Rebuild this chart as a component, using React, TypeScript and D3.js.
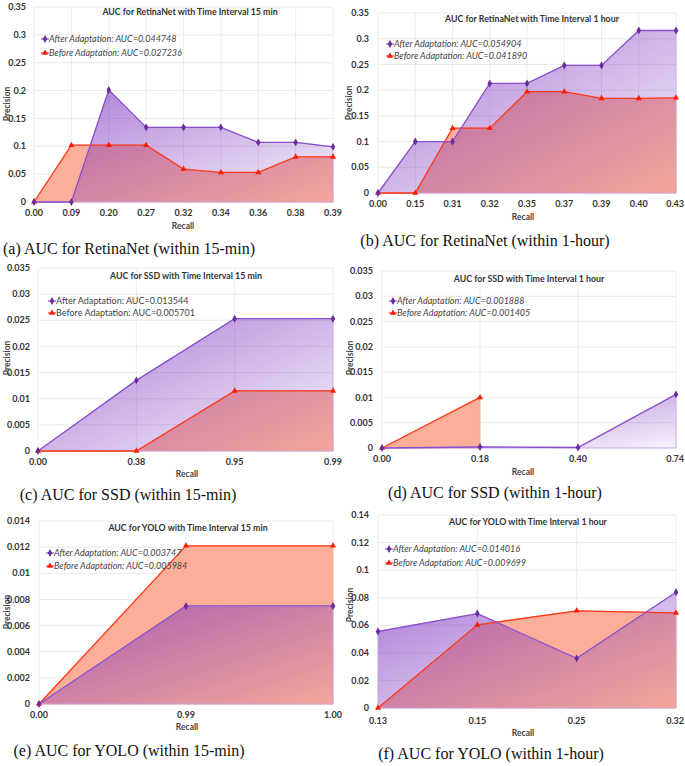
import React from 'react';
import * as d3 from 'd3';

// ---------- data ----------
const aTitle = 'AUC for RetinaNet with Time Interval 15 min';
const aRecall = ['0.00', '0.09', '0.20', '0.27', '0.32', '0.34', '0.36', '0.38', '0.39'];
const aAfter = [0, 0, 0.201, 0.134, 0.134, 0.134, 0.107, 0.107, 0.099];
const aBefore = [0, 0.102, 0.102, 0.102, 0.059, 0.053, 0.053, 0.081, 0.081];
const aYTicks = [0, 0.05, 0.1, 0.15, 0.2, 0.25, 0.3, 0.35];
const aYLabels = ['0', '0.05', '0.1', '0.15', '0.2', '0.25', '0.3', '0.35'];
const aLegend = ['After Adaptation: AUC=0.044748', 'Before Adaptation: AUC=0.027236'];
const aCaption = '(a) AUC for RetinaNet (within 15-min)';

const bTitle = 'AUC for RetinaNet with Time Interval 1 hour';
const bRecall = ['0.00', '0.15', '0.31', '0.32', '0.35', '0.37', '0.39', '0.40', '0.43'];
const bAfter = [0, 0.1, 0.1, 0.213, 0.213, 0.248, 0.248, 0.316, 0.316];
const bBefore = [0, 0, 0.126, 0.126, 0.197, 0.197, 0.184, 0.184, 0.185];
const bYTicks = [0, 0.05, 0.1, 0.15, 0.2, 0.25, 0.3, 0.35];
const bYLabels = ['0', '0.05', '0.1', '0.15', '0.2', '0.25', '0.3', '0.35'];
const bLegend = ['After Adaptation: AUC=0.054904', 'Before Adaptation: AUC=0.041890'];
const bCaption = '(b) AUC for RetinaNet (within 1-hour)';

const cTitle = 'AUC for SSD with Time Interval 15 min';
const cRecall = ['0.00', '0.38', '0.95', '0.99'];
const cAfter = [0, 0.0135, 0.0253, 0.0253];
const cBefore = [0, 0, 0.0115, 0.0115];
const cYTicks = [0, 0.005, 0.01, 0.015, 0.02, 0.025, 0.03, 0.035];
const cYLabels = ['0', '0.005', '0.01', '0.015', '0.02', '0.025', '0.03', '0.035'];
const cLegend = ['After Adaptation: AUC=0.013544', 'Before Adaptation: AUC=0.005701'];
const cCaption = '(c) AUC for SSD (within 15-min)';

const dTitle = 'AUC for SSD with Time Interval 1 hour';
const dRecall = ['0.00', '0.18', '0.40', '0.74'];
const dAfter = [0, 0.0002, 0.0001, 0.0106];
const dBefore: (number | null)[] = [0, 0.01, null, null];
const dYTicks = [0, 0.005, 0.01, 0.015, 0.02, 0.025, 0.03, 0.035];
const dYLabels = ['0', '0.005', '0.01', '0.015', '0.02', '0.025', '0.03', '0.035'];
const dLegend = ['After Adaptation: AUC=0.001888', 'Before Adaptation: AUC=0.001405'];
const dCaption = '(d) AUC for SSD (within 1-hour)';

const eTitle = 'AUC for YOLO with Time Interval 15 min';
const eRecall = ['0.00', '0.99', '1.00'];
const eAfter = [0, 0.0075, 0.0075];
const eBefore = [0, 0.0121, 0.0121];
const eYTicks = [0, 0.002, 0.004, 0.006, 0.008, 0.01, 0.012, 0.014];
const eYLabels = ['0', '0.002', '0.004', '0.006', '0.008', '0.01', '0.012', '0.014'];
const eLegend = ['After Adaptation: AUC=0.003747', 'Before Adaptation: AUC=0.005984'];
const eCaption = '(e) AUC for YOLO (within 15-min)';

const fTitle = 'AUC for YOLO with Time Interval 1 hour';
const fRecall = ['0.13', '0.15', '0.25', '0.32'];
const fAfter = [0.0555, 0.0685, 0.036, 0.084];
const fBefore = [0, 0.0603, 0.0705, 0.069];
const fYTicks = [0, 0.02, 0.04, 0.06, 0.08, 0.1, 0.12, 0.14];
const fYLabels = ['0', '0.02', '0.04', '0.06', '0.08', '0.1', '0.12', '0.14'];
const fLegend = ['After Adaptation: AUC=0.014016', 'Before Adaptation: AUC=0.009699'];
const fCaption = '(f) AUC for YOLO (within 1-hour)';

// ---------- layout ----------
type Layout = {
  x0: number; x1: number; yTop: number; yBot: number; tickRight: number;
  titleX: number; titleY: number; legX: number; legY1: number; legY2: number;
  xLabY: number; recallX: number; recallY: number; precX: number; precY: number;
  capX: number; capY: number; italic: boolean;
};

type Panel = {
  id: string; title: string; recall: string[]; after: (number | null)[]; before: (number | null)[];
  yTicks: number[]; yLabels: string[]; legend: string[]; caption: string; L: Layout;
};

const panels: Panel[] = [
  { id: 'a', title: aTitle, recall: aRecall, after: aAfter, before: aBefore, yTicks: aYTicks, yLabels: aYLabels, legend: aLegend, caption: aCaption,
    L: { x0: 34, x1: 333, yTop: 7, yBot: 202, tickRight: 26, titleX: 190, titleY: 15, legX: 45, legY1: 39, legY2: 53, xLabY: 216, recallX: 183, recallY: 229, precX: 7, precY: 104, capX: 129, capY: 254, italic: true } },
  { id: 'b', title: bTitle, recall: bRecall, after: bAfter, before: bBefore, yTicks: bYTicks, yLabels: bYLabels, legend: bLegend, caption: bCaption,
    L: { x0: 378, x1: 676, yTop: 13, yBot: 193, tickRight: 369, titleX: 532, titleY: 22, legX: 390, legY1: 44, legY2: 56, xLabY: 207, recallX: 523, recallY: 220, precX: 349, precY: 103, capX: 485, capY: 246, italic: true } },
  { id: 'c', title: cTitle, recall: cRecall, after: cAfter, before: cBefore, yTicks: cYTicks, yLabels: cYLabels, legend: cLegend, caption: cCaption,
    L: { x0: 38, x1: 333, yTop: 268, yBot: 451, tickRight: 30, titleX: 186, titleY: 279, legX: 52, legY1: 301, legY2: 313, xLabY: 465, recallX: 187, recallY: 477, precX: 7, precY: 358, capX: 128, capY: 500, italic: false } },
  { id: 'd', title: dTitle, recall: dRecall, after: dAfter, before: dBefore, yTicks: dYTicks, yLabels: dYLabels, legend: dLegend, caption: dCaption,
    L: { x0: 382, x1: 676, yTop: 271, yBot: 448, tickRight: 373, titleX: 529, titleY: 282, legX: 393, legY1: 301, legY2: 313, xLabY: 462, recallX: 523, recallY: 475, precX: 350, precY: 358, capX: 495, capY: 498, italic: true } },
  { id: 'e', title: eTitle, recall: eRecall, after: eAfter, before: eBefore, yTicks: eYTicks, yLabels: eYLabels, legend: eLegend, caption: eCaption,
    L: { x0: 39, x1: 333, yTop: 521, yBot: 704, tickRight: 30, titleX: 188, titleY: 531, legX: 50, legY1: 553, legY2: 566, xLabY: 718, recallX: 187, recallY: 730, precX: 7, precY: 612, capX: 129, capY: 756, italic: true } },
  { id: 'f', title: fTitle, recall: fRecall, after: fAfter, before: fBefore, yTicks: fYTicks, yLabels: fYLabels, legend: fLegend, caption: fCaption,
    L: { x0: 378, x1: 676, yTop: 515, yBot: 708, tickRight: 369, titleX: 528, titleY: 525, legX: 389, legY1: 549, legY2: 563, xLabY: 724, recallX: 523, recallY: 736, precX: 350, precY: 605, capX: 491, capY: 759, italic: true } },
];

const FONT = 'Lato, "Open Sans", sans-serif';
const PURPLE = '#7b2fbe';
const PURPLE_LINE = '#8a4fcc';
const PURPLE_MARK = '#6a2c9a';
const RED_LINE = '#ff3a1c';
const SALMON = '#fcae98';

const diamond = d3.symbol().type(d3.symbolDiamond).size(18)() as string;
const triangle = d3.symbol().type(d3.symbolTriangle).size(16)() as string;

function PanelView({ p }: { p: Panel }) {
  const L = p.L;
  const x = d3.scalePoint<number>().domain(p.recall.map((_, i) => i)).range([L.x0, L.x1]).padding(0);
  const y = d3.scaleLinear().domain([0, d3.max(p.yTicks) as number]).range([L.yBot, L.yTop]);
  const area = d3.area<number | null>()
    .defined((d) => d != null)
    .x((_, i) => x(i) as number)
    .y0(L.yBot)
    .y1((d) => y(d as number));
  const line = d3.line<number | null>()
    .defined((d) => d != null)
    .x((_, i) => x(i) as number)
    .y((d) => y(d as number));
  const gid = `grad-${p.id}`;
  return (
    <g>
      <defs>
        <linearGradient id={gid} x1="0" y1="0" x2="1" y2="1">
          <stop offset="0" stopColor={PURPLE} stopOpacity={0.64} />
          <stop offset="1" stopColor={PURPLE} stopOpacity={0.06} />
        </linearGradient>
      </defs>
      {/* gridlines */}
      {p.yTicks.map((t) => (
        <line key={'h' + t} x1={L.x0} x2={L.x1} y1={y(t)} y2={y(t)} stroke="#e4e4e4" strokeWidth={0.8} />
      ))}
      {p.recall.map((_, i) => (
        <line key={'v' + i} x1={x(i)} x2={x(i)} y1={L.yTop} y2={L.yBot} stroke="#e8e8e8" strokeWidth={0.8} />
      ))}
      {/* areas */}
      <path d={area(p.before) as string} fill={SALMON} stroke="#f7a590" strokeWidth={0.8} />
      <path d={area(p.after) as string} fill={`url(#${gid})`} stroke="#c8a6ea" strokeWidth={0.8} />
      {/* lines */}
      <path d={line(p.before) as string} fill="none" stroke={RED_LINE} strokeWidth={1.3} />
      <path d={line(p.after) as string} fill="none" stroke={PURPLE_LINE} strokeWidth={1.3} />
      {p.before.map((v, i) => v == null ? null : (
        <path key={'bm' + i} d={triangle} transform={`translate(${x(i)},${y(v)})`} fill="#ff1a00" />
      ))}
      {p.after.map((v, i) => v == null ? null : (
        <path key={'am' + i} d={diamond} transform={`translate(${x(i)},${y(v)})`} fill={PURPLE_MARK} />
      ))}
      {/* y tick labels */}
      {p.yTicks.map((t, i) => (
        <text key={'yl' + t} x={L.tickRight} y={y(t)} dy="0.35em" textAnchor="end" fontFamily={FONT} fontWeight={700} fontSize={9} fill="#333">
          {p.yLabels[i]}
        </text>
      ))}
      {/* x tick labels */}
      {p.recall.map((r, i) => (
        <text key={'xl' + i} x={x(i)} y={L.xLabY} textAnchor={i === p.recall.length - 1 && L.x1 > 600 ? 'end' : 'middle'} dx={i === p.recall.length - 1 && L.x1 > 600 ? 8 : 0} fontFamily={FONT} fontWeight={700} fontSize={9} fill="#333">
          {r}
        </text>
      ))}
      {/* axis titles */}
      <text x={L.recallX} y={L.recallY} textAnchor="middle" fontFamily={FONT} fontWeight={700} fontSize={8.5} fill="#444">Recall</text>
      <text transform={`translate(${L.precX},${L.precY}) rotate(-90)`} textAnchor="middle" dy="0.35em" fontFamily={FONT} fontWeight={700} fontSize={8.5} fill="#444">Precision</text>
      {/* chart title */}
      <text x={L.titleX} y={L.titleY} textAnchor="middle" fontFamily={FONT} fontWeight={700} fontSize={8.8} fill="#333">{p.title}</text>
      {/* legend */}
      {[0, 1].map((k) => {
        const ly = k === 0 ? L.legY1 : L.legY2;
        const col = k === 0 ? PURPLE_LINE : RED_LINE;
        return (
          <g key={'lg' + k}>
            <line x1={L.legX - 4} x2={L.legX + 4} y1={ly} y2={ly} stroke={col} strokeWidth={1.2} />
            <path d={k === 0 ? diamond : triangle} transform={`translate(${L.legX},${ly})`} fill={k === 0 ? PURPLE_MARK : '#ff1a00'} />
            <text x={L.legX + 4} y={ly} dy="0.35em" fontFamily={FONT} fontStyle={L.italic ? 'italic' : 'normal'} fontSize={9} fill="#444">
              {p.legend[k]}
            </text>
          </g>
        );
      })}
      {/* caption */}
      <text x={L.capX} y={L.capY} textAnchor="middle" fontFamily='"Liberation Serif", "DejaVu Serif", serif' fontSize={16} fill="#111">
        {p.caption}
      </text>
    </g>
  );
}

export default function App() {
  return (
    <svg width={685} height={766} style={{ position: 'absolute', left: 0, top: 0, background: '#fff' }}>
      <rect width={685} height={766} fill="#fff" />
      {panels.map((p) => (
        <PanelView key={p.id} p={p} />
      ))}
    </svg>
  );
}
